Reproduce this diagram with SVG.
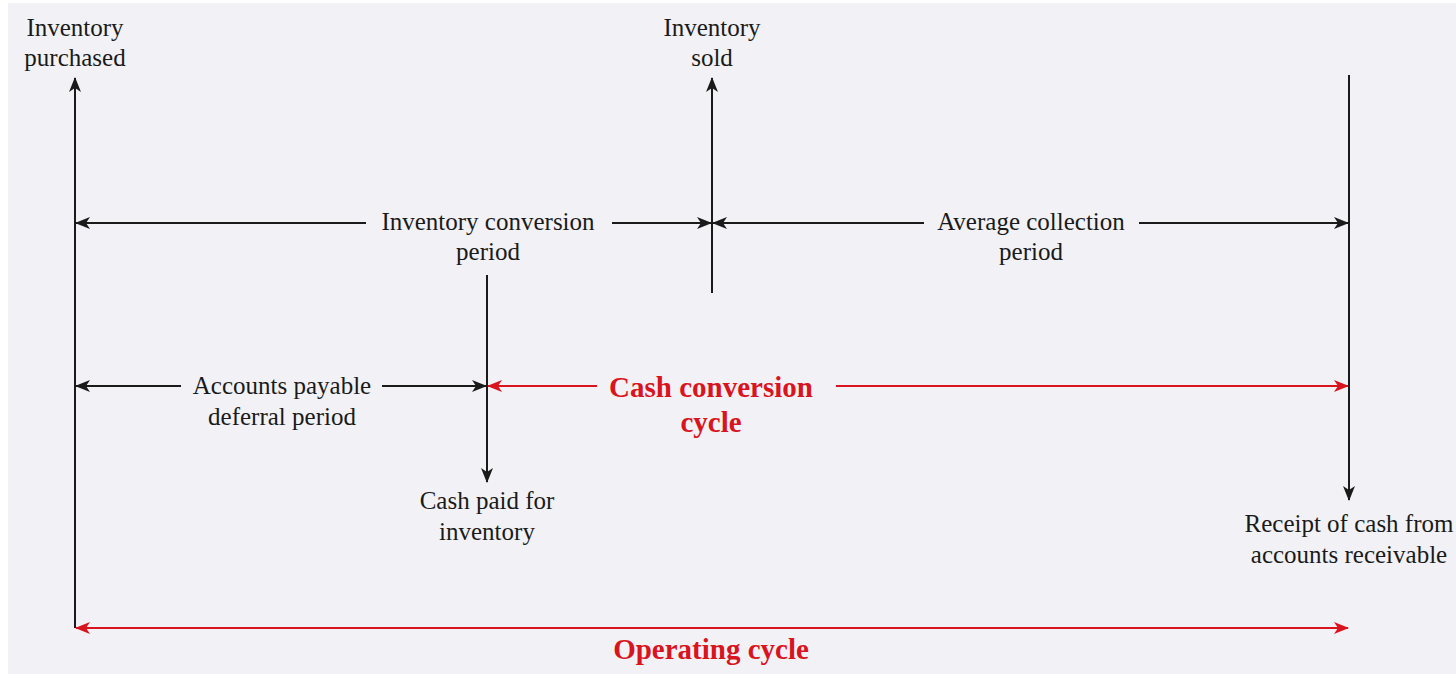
<svg xmlns="http://www.w3.org/2000/svg" width="1456" height="674" viewBox="0 0 1456 674">
<style>
.t{font-family:"Liberation Serif","Times New Roman",serif;font-size:25px;fill:#1a1a1a;text-anchor:middle}
.r{font-family:"Liberation Serif","Times New Roman",serif;font-size:29px;font-weight:bold;fill:#d9141e;text-anchor:middle}
.k{stroke:#1a1a1a;stroke-width:2;fill:none}
.rl{stroke:#d9141e;stroke-width:2;fill:none}
.ka{marker-end:url(#ah)}
.ks{marker-start:url(#ah)}
.ra{marker-end:url(#rh)}
.rs{marker-start:url(#rh)}
</style>
<defs>
<marker id="ah" viewBox="0 0 15 12" refX="14" refY="6" markerWidth="15" markerHeight="12" markerUnits="userSpaceOnUse" orient="auto-start-reverse">
<path d="M0,0 L15,6 L0,12 L4,6 z" fill="#1a1a1a"/>
</marker>
<marker id="rh" viewBox="0 0 15 12" refX="14" refY="6" markerWidth="15" markerHeight="12" markerUnits="userSpaceOnUse" orient="auto-start-reverse">
<path d="M0,0 L15,6 L0,12 L4,6 z" fill="#d9141e"/>
</marker>
</defs>
<rect x="0" y="0" width="1456" height="674" fill="#ffffff"/>
<rect x="8" y="3" width="1448" height="671" fill="#f2f2f6"/>

<g id="connectors">
<line class="k ka" x1="75" y1="628" x2="75" y2="78"/>
<line class="k ka" x1="712" y1="293" x2="712" y2="78"/>
<line class="k ka" x1="1349" y1="75" x2="1349" y2="500"/>
<line class="k ka" x1="487" y1="275" x2="487" y2="482"/>
<line class="k ks" x1="76" y1="223" x2="366" y2="223"/>
<line class="k ka" x1="612" y1="223" x2="711" y2="223"/>
<line class="k ks" x1="713" y1="223" x2="924" y2="223"/>
<line class="k ka" x1="1139" y1="223" x2="1348" y2="223"/>
<line class="k ks" x1="76" y1="386" x2="181" y2="386"/>
<line class="k ka" x1="382" y1="386" x2="486" y2="386"/>
<line class="rl rs" x1="488" y1="386" x2="597" y2="386"/>
<line class="rl ra" x1="836" y1="386" x2="1348" y2="386"/>
<line class="rl rs ra" x1="76" y1="628" x2="1348" y2="628"/>
</g>

<g id="inventory-purchased"><text class="t" x="75" y="36">Inventory</text><text class="t" x="75" y="66">purchased</text></g>
<g id="inventory-sold"><text class="t" x="712" y="36">Inventory</text><text class="t" x="712" y="66">sold</text></g>
<g id="inventory-conversion-period"><text class="t" x="488" y="230">Inventory conversion</text><text class="t" x="488" y="260">period</text></g>
<g id="average-collection-period"><text class="t" x="1031" y="230">Average collection</text><text class="t" x="1031" y="260">period</text></g>
<g id="accounts-payable-deferral-period"><text class="t" x="282" y="394">Accounts payable</text><text class="t" x="282" y="425">deferral period</text></g>
<g id="cash-conversion-cycle"><text class="r" x="711" y="397">Cash conversion</text><text class="r" x="711" y="432">cycle</text></g>
<g id="cash-paid-for-inventory"><text class="t" x="487" y="509">Cash paid for</text><text class="t" x="487" y="540">inventory</text></g>
<g id="receipt-of-cash"><text class="t" x="1349" y="532">Receipt of cash from</text><text class="t" x="1349" y="563">accounts receivable</text></g>
<g id="operating-cycle"><text class="r" x="711" y="659">Operating cycle</text></g>
</svg>
